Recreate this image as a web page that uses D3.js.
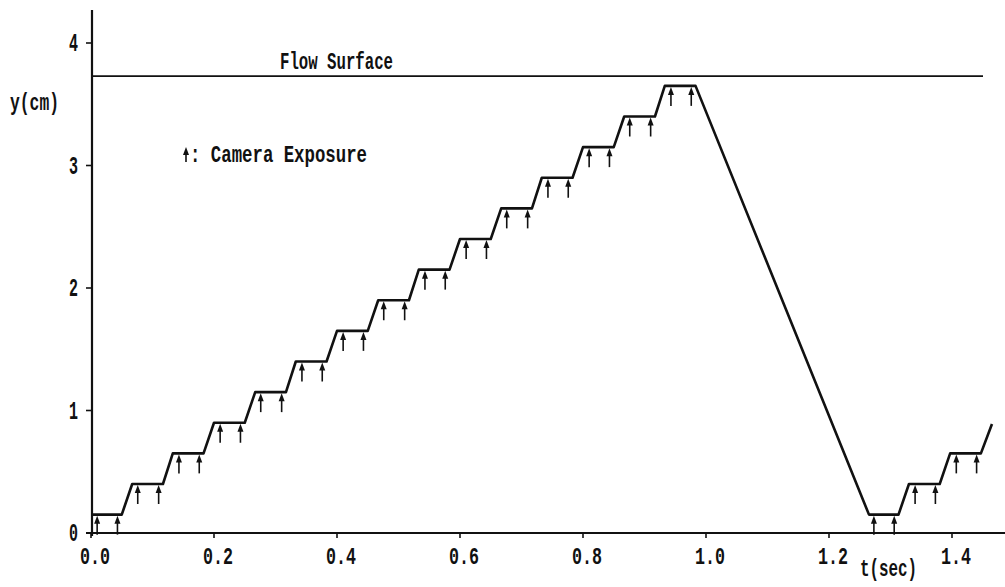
<!DOCTYPE html>
<html>
<head>
<meta charset="utf-8">
<script src="https://cdn.jsdelivr.net/npm/d3@7"></script>
<style>
  body { margin: 0; background: #fff; }
  svg { display: block; }
  text { font-family: "Liberation Mono", "DejaVu Sans Mono", monospace; fill: #111; font-weight: bold; }
</style>
</head>
<body>
<svg id="chart" width="1005" height="587"></svg>
<script>
// particle path: time (s) and height (cm) at each corner of the trace
var pathT = [0.000, 0.050, 0.067, 0.117, 0.133, 0.183, 0.200, 0.250, 0.267, 0.317,
             0.333, 0.383, 0.400, 0.450, 0.467, 0.517, 0.533, 0.583, 0.600, 0.650,
             0.667, 0.717, 0.733, 0.783, 0.800, 0.850, 0.867, 0.917, 0.933, 0.983,
             1.265, 1.313, 1.330, 1.380, 1.397, 1.447, 1.465];
var pathY = [0.15, 0.15, 0.40, 0.40, 0.65, 0.65, 0.90, 0.90, 1.15, 1.15,
             1.40, 1.40, 1.65, 1.65, 1.90, 1.90, 2.15, 2.15, 2.40, 2.40,
             2.65, 2.65, 2.90, 2.90, 3.15, 3.15, 3.40, 3.40, 3.65, 3.65,
             0.15, 0.15, 0.40, 0.40, 0.65, 0.65, 0.89];

// camera exposures (arrows)
var exposureT = [0.010, 0.043, 0.076, 0.110, 0.143, 0.176, 0.210, 0.243, 0.276, 0.310,
                 0.343, 0.376, 0.410, 0.443, 0.476, 0.510, 0.543, 0.576, 0.610, 0.643,
                 0.676, 0.710, 0.743, 0.776, 0.810, 0.843, 0.876, 0.910, 0.943, 0.976,
                 1.273, 1.306, 1.340, 1.373, 1.407, 1.440];
var exposureY = [0.15, 0.15, 0.40, 0.40, 0.65, 0.65, 0.90, 0.90, 1.15, 1.15,
                 1.40, 1.40, 1.65, 1.65, 1.90, 1.90, 2.15, 2.15, 2.40, 2.40,
                 2.65, 2.65, 2.90, 2.90, 3.15, 3.15, 3.40, 3.40, 3.65, 3.65,
                 0.15, 0.15, 0.40, 0.40, 0.65, 0.65];

var flowSurface = 3.73;
var xTicks = [0, 0.2, 0.4, 0.6, 0.8, 1.0, 1.2, 1.4];
var yTicks = [0, 1, 2, 3, 4];

var svg = d3.select("#chart");

var x = d3.scaleLinear().domain([0, 1.4]).range([91, 952]);
var y = d3.scaleLinear().domain([0, 4]).range([533, 43]);

// axes lines
svg.append("line")
    .attr("x1", 92).attr("x2", 92).attr("y1", 10).attr("y2", 536)
    .attr("stroke", "#111").attr("stroke-width", 2.2);
svg.append("line")
    .attr("x1", 86).attr("x2", 1005).attr("y1", y(0)).attr("y2", y(0))
    .attr("stroke", "#111").attr("stroke-width", 1.8);

// y ticks
var yAxis = svg.append("g");
yTicks.forEach(function(v){
    yAxis.append("line")
        .attr("x1", 86).attr("x2", 92).attr("y1", y(v)).attr("y2", y(v))
        .attr("stroke", "#111").attr("stroke-width", 1.6);
    yAxis.append("text")
        .attr("x", 69).attr("y", y(v) + 8)
        .attr("font-size", 25)
        .attr("textLength", 9).attr("lengthAdjust", "spacingAndGlyphs")
        .text(v);
});

// x ticks
var xAxis = svg.append("g");
xTicks.forEach(function(v){
    xAxis.append("line")
        .attr("x1", x(v)).attr("x2", x(v)).attr("y1", y(0)).attr("y2", y(0) + 5)
        .attr("stroke", "#111").attr("stroke-width", 1.6);
    xAxis.append("text")
        .attr("x", x(v) - 11).attr("y", 564)
        .attr("font-size", 24)
        .attr("textLength", 30).attr("lengthAdjust", "spacingAndGlyphs")
        .text(d3.format(".1f")(v));
});

// axis titles
svg.append("text").attr("x", 10).attr("y", 110)
    .attr("font-size", 23)
    .attr("textLength", 49).attr("lengthAdjust", "spacingAndGlyphs")
    .text("y(cm)");
svg.append("text").attr("x", 860).attr("y", 576)
    .attr("font-size", 24)
    .attr("textLength", 57).attr("lengthAdjust", "spacingAndGlyphs")
    .text("t(sec)");

// flow surface
svg.append("line")
    .attr("x1", 92).attr("x2", 983)
    .attr("y1", y(flowSurface)).attr("y2", y(flowSurface))
    .attr("stroke", "#111").attr("stroke-width", 1.6);
svg.append("text").attr("x", 280).attr("y", 69)
    .attr("font-size", 23)
    .attr("textLength", 113).attr("lengthAdjust", "spacingAndGlyphs")
    .text("Flow Surface");

// path of the particle
var pts = pathT.map(function(t, i){ return [t, pathY[i]]; });
var line = d3.line()
    .x(function(d){ return x(d[0]); })
    .y(function(d){ return y(d[1]); });
svg.append("path")
    .attr("d", line(pts))
    .attr("fill", "none")
    .attr("stroke", "#111")
    .attr("stroke-width", 2.6)
    .attr("stroke-linejoin", "round");

// arrows
function arrow(g, px, py, len){
    g.append("line")
        .attr("x1", px).attr("x2", px).attr("y1", py + 5).attr("y2", py + len)
        .attr("stroke", "#111").attr("stroke-width", 1.6);
    g.append("path")
        .attr("d", "M" + (px - 3) + "," + (py + 8) + "L" + px + "," + py + "L" + (px + 3) + "," + (py + 8) + "Z")
        .attr("fill", "#111");
}
var arrows = svg.append("g");
exposureT.forEach(function(t, i){
    arrow(arrows, x(t), y(exposureY[i]) + 1, 19);
});

// legend
arrow(svg, 186, 147, 15);
svg.append("text").attr("x", 190).attr("y", 162)
    .attr("font-size", 23)
    .attr("textLength", 177).attr("lengthAdjust", "spacingAndGlyphs")
    .text(": Camera Exposure");
</script>
</body>
</html>
